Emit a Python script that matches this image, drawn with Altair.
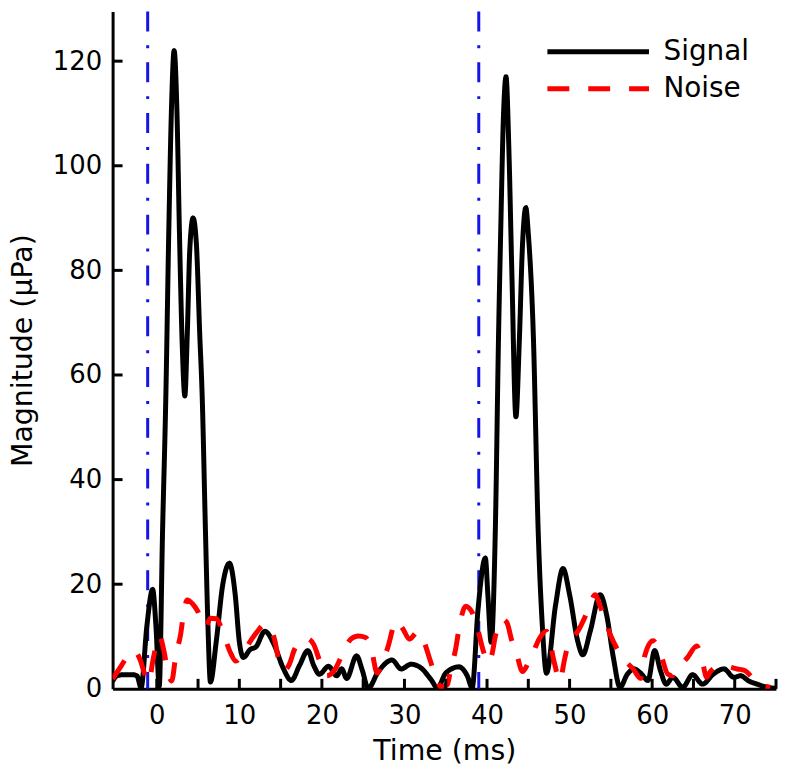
import altair as alt
import pandas as pd

# ---- data ----
signal_t = [-5.35, -4.8, -4.0, -3.0, -2.4, -1.9, -1.2, -0.5, -0.1, 0.3, 0.7, 1.1, 1.45, 1.8, 2.1,
            2.45, 2.75, 3.1, 3.4, 3.7, 4.0, 4.4, 4.8, 5.2, 5.5, 5.9, 6.2, 6.5, 7.2, 8.0, 8.8,
            9.5, 10.0, 10.5, 11.3, 12.0, 13.1, 14.2, 15.3, 16.3, 17.3, 18.3, 19.0, 19.7, 20.8,
            21.8, 22.4, 23.0, 24.2, 24.9, 25.6, 26.8, 28.5, 29.6, 30.8, 32.0, 33.2, 34.0, 35.0,
            36.6, 37.6, 38.2, 38.9, 39.8, 40.1, 40.5, 41.0, 41.4, 41.65, 42.0, 42.3, 42.65, 43.0,
            43.5, 43.9, 44.3, 44.7, 45.0, 45.6, 46.2, 46.7, 47.2, 48.3, 49.2, 50.0, 51.0, 51.6,
            52.5, 53.7, 54.5, 55.3, 56.1, 57.0, 57.8, 58.6, 59.5, 60.3, 61.0, 61.7, 62.5, 63.7,
            64.9, 66.1, 67.4, 68.7, 69.9, 70.7, 71.7, 72.7, 73.9, 75.0]
signal_v = [1.5, 2.5, 2.7, 2.7, 2.5, 0.2, 12, 19, 12, 0.5, 30, 56, 87, 112, 122,
            110, 87, 65, 56, 68, 84, 90, 85, 68, 56, 30, 12, 1.3, 9, 20, 24,
            18, 9, 6, 7.5, 8, 11, 8.5, 4, 1.6, 4.5, 7.3, 4.5, 2.8, 4.3,
            2.5, 3.8, 2.0, 6.3, 3.5, 0.1, 3.2, 5.5, 3.8, 4.7, 4.0, 1.8, 0.2, 3.0,
            4.2, 2.5, 0.2, 15, 25, 18, 8.9, 30, 68, 87, 110, 117, 103, 80,
            52, 66, 85, 92, 87, 68, 30, 12, 3, 16, 23, 18, 9, 6.5,
            11, 18, 14, 6, 0.3, 2.8, 3.8, 3, 1.6, 7.3, 3.5, 0.9, 2.2, 0.3,
            2.7, 0.9, 2.8, 3.8, 2.2, 2.5, 1.5, 0.9, 0.3, 0.1]

noise_t = [-5.35, -4.3, -3.5, -2.7, -2.0, -1.5, -1.0, -0.4, 0.3, 0.9, 1.3, 1.8, 2.3, 2.9, 3.3,
           3.7, 4.3, 4.9, 5.9, 6.5, 7.2, 8.1, 8.9, 9.6, 10.3, 11.5, 12.1, 13.1, 13.8, 14.3,
           14.8, 15.4, 16.0, 16.7, 17.5, 18.2, 19.0, 19.7, 20.6, 21.5, 22.4, 23.5, 24.4, 25.3,
           26.0, 26.7, 27.2, 28.0, 29.0, 29.8, 30.6, 31.6, 32.4, 33.0, 33.8, 34.4, 35.2, 35.6,
           36.2, 36.6, 37.4, 38.2, 38.8, 39.6, 40.1, 40.6, 41.0, 41.9, 42.4, 43.0, 43.6, 44.3,
           45.0, 45.6, 46.3, 47.2, 48.2, 48.8, 49.4, 49.9, 51.0, 52.2, 53.1, 53.7, 55.0, 55.7,
           56.7, 57.7, 58.6, 59.1, 60.1, 61.1, 61.9, 62.5, 62.9, 64.3, 65.4, 66.1, 66.6, 67.0,
           68.3, 69.3, 70.3, 71.2, 72.1, 72.9, 74.3]
noise_v = [1.9, 4.4, 6.3, 7.2, 5.5, 3.0, 1.2, 6, 10.1, 7, 3.5, 1.5, 6.3, 10.5, 15,
           17, 16.3, 15, 11.8, 13.5, 13.4, 10.4, 7, 5.3, 6.5, 9.5, 10.8, 12.3, 11.5, 9.2,
           5.3, 3.5, 4.5, 7.6, 9.2, 9.6, 8.5, 5.5, 2.5, 3.5, 6.3, 9.5, 10.1, 9.8,
           7.5, 3.0, 4.4, 8.0, 13, 11.5, 9.5, 10.9, 8.9, 6.0, 2.3, 0.4, 0.8, 3.8,
           7.6, 11.4, 15.8, 14.6, 11.8, 7, 5.0, 6.6, 10, 13.3, 12.7, 9.2, 6.6, 3.3,
           5, 7, 9.5, 11, 4.7, 1.5, 5.7, 8.9, 11, 14.9, 18, 15.8, 10.1, 7.8,
           5.4, 3.8, 2.0, 6.3, 9.2, 6.3, 2.8, 2.5, 3.5, 6, 8.2, 5.1, 2.2, 3.2,
           4.4, 4.2, 3.8, 3.5, 2.2, 0.9, 0.3]

marker_t = [-1.1, 39.0]
x_tick_values = [0, 10, 20, 30, 40, 50, 60, 70]
x_minor_ticks = [0, 5, 10, 15, 20, 25, 30, 35, 40, 45, 50, 55, 60, 65, 70, 75]
y_tick_values = [0, 20, 40, 60, 80, 100, 120]
series_names = ["Signal", "Noise"]
series_colors = ["#000000", "#ff0000"]

W, H = 666, 680
FONT = "DejaVu Sans"

sig_df = pd.DataFrame({"t": signal_t, "v": signal_v, "series": "Signal"})
noi_df = pd.DataFrame({"t": noise_t, "v": noise_v, "series": "Noise"})
mark_df = pd.DataFrame({"t": marker_t})
xt_df = pd.DataFrame({"t": x_minor_ticks})
yt_df = pd.DataFrame({"v": [v for v in y_tick_values if v > 0]})

xscale = alt.Scale(domain=[-5.35, 75], nice=False, zero=False)
yscale = alt.Scale(domain=[0, 129.5], nice=False, zero=False)
xaxis = alt.Axis(title="Time (ms)", values=x_tick_values, ticks=False, grid=False,
                 labelPadding=14, titlePadding=8, domainColor="black", domainWidth=3,
                 labelFontSize=26, titleFontSize=28.5, labelFont=FONT, titleFont=FONT,
                 titleFontWeight="normal", labelColor="black", titleColor="black")
yaxis = alt.Axis(title="Magnitude (μPa)", values=y_tick_values, ticks=False, grid=False,
                 labelPadding=11, titlePadding=14.5, domainColor="black", domainWidth=3,
                 labelFontSize=26, titleFontSize=28.5, labelFont=FONT, titleFont=FONT,
                 titleFontWeight="normal", labelColor="black", titleColor="black")
X = alt.X("t:Q", scale=xscale, axis=xaxis)
Y = alt.Y("v:Q", scale=yscale, axis=yaxis)

legend = alt.Legend(title=None, orient="none", legendX=465, legendY=18,
                    symbolType="M-2.55,0L2.55,0", symbolSize=1600,
                    symbolStrokeWidth=5, labelFontSize=28, labelFont=FONT,
                    labelColor="black", labelOffset=43, rowPadding=0, padding=0)
color = alt.Color("series:N", scale=alt.Scale(domain=series_names, range=series_colors),
                  legend=legend)
dash = alt.StrokeDash("series:N", scale=alt.Scale(domain=series_names, range=[[1, 0], [22, 19]]),
                      legend=legend)

markers = alt.Chart(mark_df).mark_rule(color="#1414e6", strokeWidth=3,
                                       strokeDash=[20, 14, 3, 14]).encode(x=X)

signal = alt.Chart(sig_df).mark_line(strokeWidth=5, strokeCap="round", strokeJoin="round",
                                     interpolate="monotone", clip=True).encode(
    x=X, y=Y, color=color, strokeDash=dash)
noise = alt.Chart(noi_df).mark_line(strokeWidth=5, strokeCap="butt",
                                    interpolate="monotone", clip=True).encode(
    x=X, y=Y, color=color, strokeDash=dash)

xticks = alt.Chart(xt_df).mark_rule(color="black", strokeWidth=3).encode(
    x=X, y=alt.value(H), y2=alt.value(H - 10))
yticks = alt.Chart(yt_df).mark_rule(color="black", strokeWidth=3).encode(
    y=Y, x=alt.value(0), x2=alt.value(10))

chart = alt.layer(markers, signal, noise, xticks, yticks).properties(
    width=W, height=H, padding=0, background="white"
).configure_view(strokeWidth=0)

chart.save("out.html", embed_options={"renderer": "svg", "actions": False})
